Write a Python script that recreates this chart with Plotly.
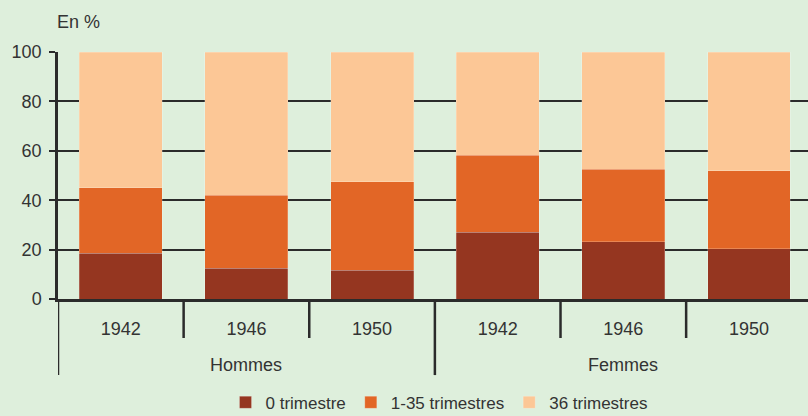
import plotly.graph_objects as go

# data (percentages)
groupes = ["Hommes", "Femmes"]
annees = ["1942", "1946", "1950", "1942", "1946", "1950"]
series = ["0 trimestre", "1-35 trimestres", "36 trimestres"]
zero_trim = [18.5, 12.5, 11.7, 27.0, 23.1, 20.3]
un_35_trim = [26.6, 29.5, 35.7, 31.3, 29.5, 31.6]
trente6_trim = [54.9, 58.0, 52.6, 41.7, 47.4, 48.1]

couleurs = ["#953620", "#e26626", "#fcc796"]
fond = "#deefdc"
encre = "#2b2b2b"
police = dict(family="Liberation Sans Narrow, Arial Narrow, Liberation Sans, Arial, sans-serif",
              size=18, color="#333333")

pos = list(range(len(annees)))

fig = go.Figure()
for nom, vals, coul in zip(series, [zero_trim, un_35_trim, trente6_trim], couleurs):
    fig.add_trace(go.Bar(
        x=pos, y=vals, name=nom, width=0.66,
        marker=dict(color=coul, line=dict(width=0.6, color="rgba(255,255,255,0.35)")),
    ))

# separators below the axis: short ones between years, long ones between groups
n_par_groupe = len(annees) // len(groupes)
for i in range(len(annees)):
    long = i % n_par_groupe == 0
    fig.add_shape(type="line", xref="x", yref="paper",
                  x0=i - 0.5, x1=i - 0.5, y0=0, y1=-0.308 if long else -0.158,
                  line=dict(color=encre, width=2.5))

# group labels
for g, nom in enumerate(groupes):
    fig.add_annotation(x=g * n_par_groupe + (n_par_groupe - 1) / 2, y=-0.267,
                       xref="x", yref="paper", text=nom, showarrow=False,
                       font=police, yanchor="middle")

fig.add_annotation(x=-0.004, y=1.121, xref="paper", yref="paper", text="En %",
                   showarrow=False, font=police, xanchor="left", yanchor="middle")

fig.update_layout(
    barmode="stack",
    width=808, height=416,
    margin=dict(l=58, r=0, t=52, b=117, autoexpand=False),
    paper_bgcolor=fond, plot_bgcolor=fond,
    font=police,
    showlegend=True,
    legend=dict(orientation="h", x=0.508, xanchor="center", y=-0.42, yanchor="middle",
                font=dict(police, size=17), itemwidth=30, traceorder="normal",
                bgcolor="rgba(0,0,0,0)"),
    xaxis=dict(range=[-0.5, 5.47], tickvals=pos, ticktext=annees,
               showgrid=False, zeroline=False, ticks="", ticklabelstandoff=12,
               showline=True, linecolor=encre, linewidth=2.5, fixedrange=True),
    yaxis=dict(range=[0, 100], tickvals=[0, 20, 40, 60, 80, 100],
               showgrid=True, gridcolor=encre, gridwidth=2,
               zeroline=False, showline=True, linecolor=encre, linewidth=2.5,
               ticks="outside", ticklen=6, tickwidth=2, tickcolor=encre,
               ticklabelstandoff=4, fixedrange=True),
)

fig.write_html("out.html", config={"displayModeBar": False},
               post_script="document.body.style.margin='0px';")
